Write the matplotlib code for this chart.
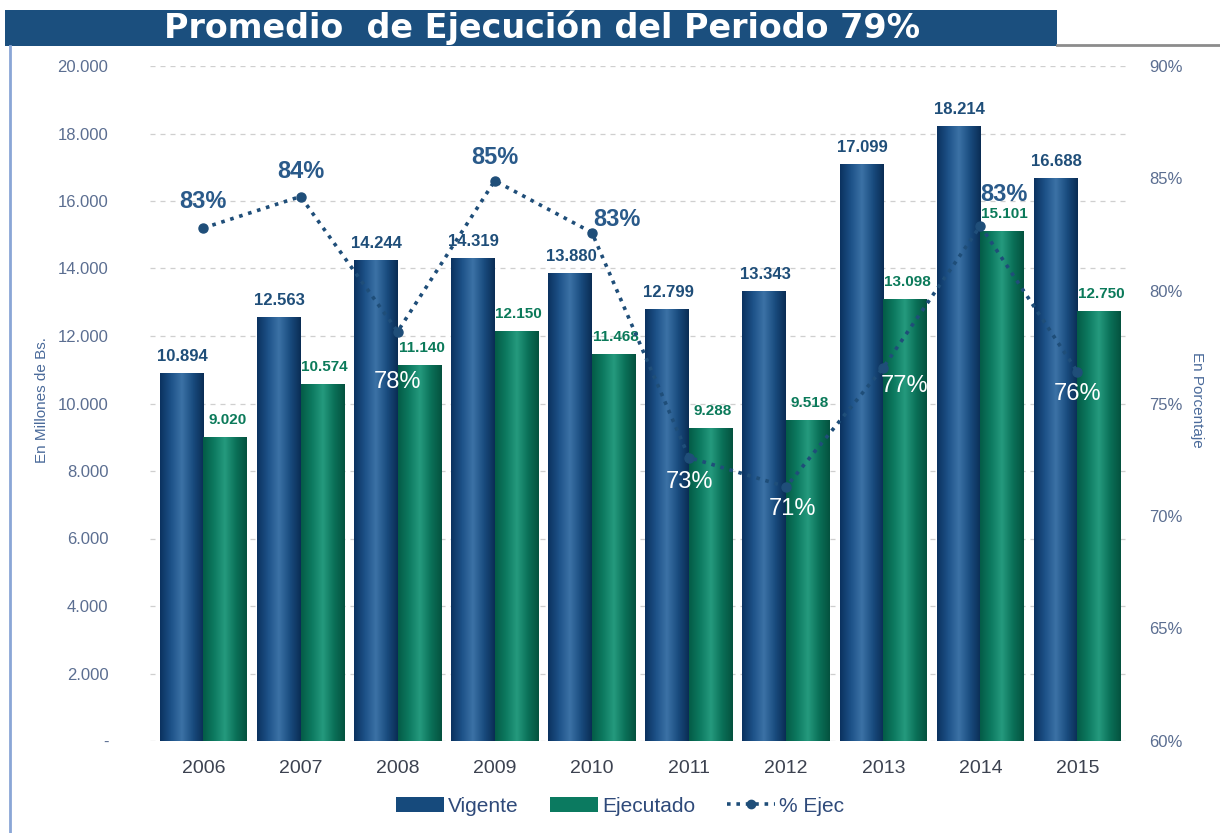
import numpy as np
import matplotlib
matplotlib.use("Agg")
import matplotlib.pyplot as plt
from matplotlib.colors import LinearSegmentedColormap
from matplotlib.patches import Rectangle, Patch
from matplotlib.lines import Line2D
from matplotlib.ticker import FuncFormatter, FixedLocator

# ---------------- data ----------------
years = ["2006", "2007", "2008", "2009", "2010", "2011", "2012", "2013", "2014", "2015"]
vigente = [10894, 12563, 14244, 14319, 13880, 12799, 13343, 17099, 18214, 16688]
ejecutado = [9020, 10574, 11140, 12150, 11468, 9288, 9518, 13098, 15101, 12750]
pct_ejec = [82.8, 84.2, 78.2, 84.9, 82.6, 72.6, 71.3, 76.6, 82.9, 76.4]
pct_labels = ["83%", "84%", "78%", "85%", "83%", "73%", "71%", "77%", "83%", "76%"]
title = "Promedio  de Ejecución del Periodo 79%"

# ---------------- styling ----------------
plt.rcParams['font.family'] = ['Liberation Sans', 'DejaVu Sans']
NAVY = "#164a7c"
GREEN = "#0b7a60"
TICK_C = "#5b6e91"
PCT_C = "#1f4e79"

# label placement offsets (pixels) and styles for percentage labels
pct_off = [(0, 27), (0, 25), (0, -50), (0, 23), (25, 13), (0, -24), (6, -22), (21, -18), (24, 31), (0, -22)]
pct_white = [False, False, True, False, False, True, True, True, False, True]

W, H = 1220, 833
fig = plt.figure(figsize=(W / 100, H / 100), dpi=100)
fig.patch.set_facecolor("white")

ax = fig.add_axes([150 / W, 1 - 741 / H, (1128 - 150) / W, (741 - 66) / H])
ax2 = ax.twinx()

x = np.arange(len(years))
bw = 0.45
b1 = ax.bar(x - bw / 2, vigente, width=bw, color=NAVY, zorder=3)
b2 = ax.bar(x + bw / 2, ejecutado, width=bw, color=GREEN, zorder=3)

# gradient fill for bars (cylinder-like shading)
cm_navy = LinearSegmentedColormap.from_list("navy", ["#0b3260", "#1d5288", "#3c72a6", "#1a4d80", "#0a2d55"])
cm_green = LinearSegmentedColormap.from_list("green", ["#045c47", "#0d7a60", "#259a7e", "#0b7259", "#04523f"])
grad = np.linspace(0, 1, 64).reshape(1, -1)
for bars, cm in ((b1, cm_navy), (b2, cm_green)):
    for r in bars:
        x0, y0 = r.get_x(), r.get_y()
        im = ax.imshow(grad, cmap=cm, aspect="auto", zorder=3.5,
                       extent=[x0, x0 + r.get_width(), y0, y0 + r.get_height()])
        im.set_clip_path(r)
ax.set_xlim(-0.55, len(years) - 1 + 0.52)
ax.set_ylim(0, 20000)

# bar value labels
fmt = lambda v: f"{v:,.0f}".replace(",", ".")
for r, v in zip(b1, vigente):
    ax.annotate(fmt(v), (r.get_x() + r.get_width() / 2, v), xytext=(1, 9), textcoords="offset pixels",
                ha="center", va="bottom", fontsize=12, fontweight="bold", color="#1f4e79", zorder=6)
for r, v in zip(b2, ejecutado):
    ax.annotate(fmt(v), (r.get_x() + r.get_width() / 2, v), xytext=(2, 10), textcoords="offset pixels",
                ha="center", va="bottom", fontsize=11, fontweight="bold", color="#0b7a5a", zorder=6)

# axes styling
for s in ax.spines.values():
    s.set_visible(False)
for s in ax2.spines.values():
    s.set_visible(False)
ax.set_xticks(x)
ax.set_xticklabels(years, fontsize=14, color="#3c4250")
ax.tick_params(axis="x", length=0, pad=14)
ax.yaxis.set_major_locator(FixedLocator(np.arange(0, 20001, 2000)))
ax.yaxis.set_major_formatter(FuncFormatter(lambda v, p: "-" if v == 0 else fmt(v)))
ax.tick_params(axis="y", length=0, pad=30, labelsize=12, labelcolor=TICK_C)
ax.grid(axis="y", color="#cfcfcf", linestyle=(0, (4, 4)), linewidth=0.9, zorder=0)
ax.set_axisbelow(True)

ax2.set_ylim(60, 90)
ax2.yaxis.set_major_locator(FixedLocator(np.arange(60, 91, 5)))
ax2.yaxis.set_major_formatter(FuncFormatter(lambda v, p: f"{v:.0f}%"))
ax2.tick_params(axis="y", length=0, pad=15, labelsize=12, labelcolor=TICK_C)

# put percentage line above bars
ax2.set_zorder(ax.get_zorder() + 1)
ax2.patch.set_visible(False)
ax2.plot(x, pct_ejec, linestyle=(0, (1, 1.6)), linewidth=2.6, color=PCT_C,
         marker="o", markersize=6.5, zorder=5)
for xi, v, lab, off, wht in zip(x, pct_ejec, pct_labels, pct_off, pct_white):
    ax2.annotate(lab, (xi, v), xytext=off, textcoords="offset pixels", ha="center", va="center",
                 fontsize=17, fontweight="normal" if wht else "bold",
                 color="white" if wht else "#2a5a8a", zorder=7)

# axis titles
fig.text(42 / W, 1 - 400 / H, "En Millones de Bs.", rotation=90, ha="center", va="center",
         fontsize=11, color="#4a6a9a")
fig.text(1197 / W, 1 - 400 / H, "En Porcentaje", rotation=270, ha="center", va="center",
         fontsize=11, color="#4a6a9a")

# title band
fig.patches.append(Rectangle((5 / W, 1 - 46 / H), 1052 / W, 36 / H, transform=fig.transFigure,
                             facecolor="#1b4f7e", edgecolor="none", zorder=1))
fig.add_artist(Line2D([1057 / W, 1.0], [1 - 45 / H, 1 - 45 / H], color="#8c8c8c", linewidth=2,
                      transform=fig.transFigure))
fig.add_artist(Line2D([10 / W, 10 / W], [0, 1 - 46 / H], color="#8aa6d6", linewidth=2,
                      transform=fig.transFigure))
fig.text(542 / W, 1 - 28 / H, title, ha="center", va="center", fontsize=24, fontweight="bold",
         color="white", family=["DejaVu Sans"])

# legend
handles = [Patch(facecolor=NAVY, edgecolor="none"),
           Patch(facecolor=GREEN, edgecolor="none"),
           Line2D([], [], linestyle=(0, (1, 1.6)), linewidth=2.6, color=PCT_C, marker="o", markersize=6)]
leg = fig.legend(handles, ["Vigente", "Ejecutado", "% Ejec"], loc="center", ncol=3,
                 bbox_to_anchor=(620 / W, 1 - 806 / H), frameon=False, fontsize=15,
                 handlelength=2.3, handleheight=0.7, handletextpad=0.2, columnspacing=1.5)
for t in leg.get_texts():
    t.set_color("#2f4a7a")

fig.savefig("out.png", dpi=100, facecolor="white")
